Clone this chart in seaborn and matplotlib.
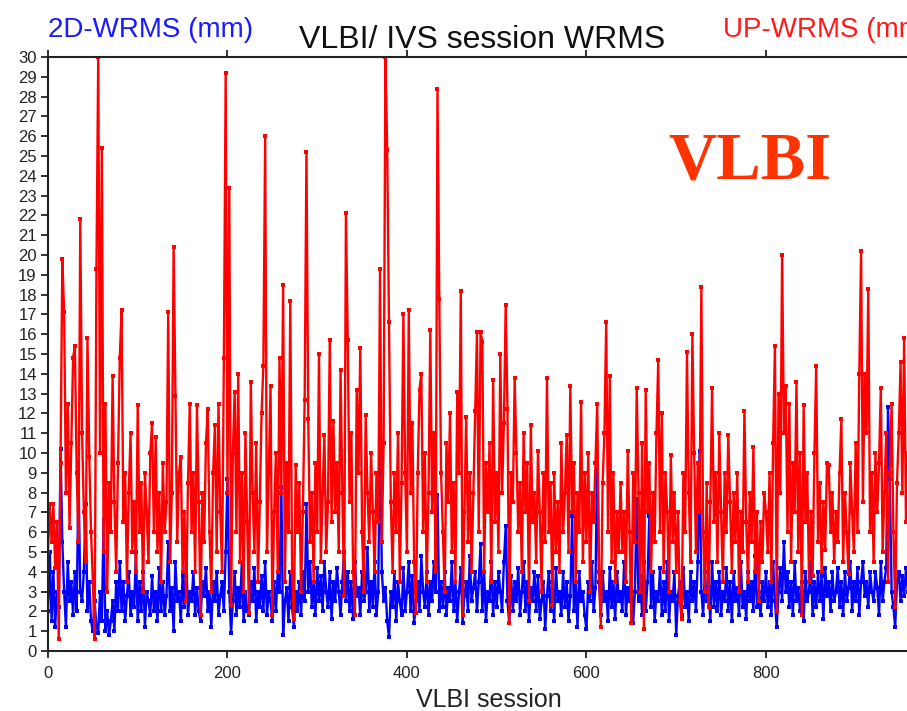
import numpy as np
import pandas as pd
import seaborn as sns
import matplotlib.pyplot as plt

# session numbers (every 2nd session)
session = np.arange(0, 960, 2)

# UP-WRMS (mm)
wrms_up = [
    5.0, 7.4, 5.5, 7.4, 4.2, 6.5, 0.6, 9.5, 19.8, 17.1, 8.0, 12.5, 6.2, 10.5, 14.8, 15.4, 9.0, 5.5, 21.8, 11.0,
    7.0, 4.5, 15.8, 9.8, 6.0, 3.5, 0.6, 19.3, 30.0, 10.0, 25.4, 5.0, 12.5, 3.0, 8.5, 6.0, 13.9, 7.5, 4.0, 9.5,
    14.8, 17.2, 6.5, 9.0, 3.5, 8.0, 11.0, 5.0, 7.5, 4.0, 12.4, 6.0, 8.5, 3.0, 9.0, 7.0, 4.5, 10.0, 11.5, 6.0,
    10.8, 5.0, 8.0, 3.5, 9.5, 6.0, 7.5, 17.1, 4.5, 8.0, 20.4, 12.9, 5.5, 9.0, 9.8, 4.0, 7.0, 2.5, 8.5, 12.5,
    6.0, 9.0, 4.0, 12.4, 7.5, 1.8, 8.0, 5.5, 10.5, 12.2, 6.0, 3.0, 9.0, 11.4, 5.0, 12.5, 7.0, 4.0, 14.8, 29.2,
    8.0, 23.4, 2.3, 10.0, 13.1, 6.0, 14.0, 4.5, 9.0, 3.0, 11.0, 6.5, 1.9, 13.6, 8.0, 5.0, 10.5, 3.5, 7.5, 12.0,
    14.4, 26.0, 5.0, 9.0, 13.4, 1.8, 7.0, 10.0, 4.0, 14.8, 8.0, 18.5, 3.5, 9.5, 6.0, 17.7, 4.0, 1.6, 9.4, 6.0,
    8.5, 3.0, 7.0, 12.7, 25.2, 11.7, 5.5, 8.0, 3.5, 9.5, 6.0, 15.0, 4.5, 8.0, 10.9, 5.0, 7.5, 15.7, 6.5, 11.6,
    7.0, 9.5, 5.0, 14.2, 8.0, 2.8, 22.1, 15.7, 7.5, 11.0, 4.0, 1.8, 13.2, 9.0, 15.3, 6.0, 3.0, 11.9, 8.0, 5.5,
    10.0, 7.0, 4.0, 9.0, 6.5, 19.3, 5.5, 10.5, 30.0, 25.3, 16.6, 7.5, 4.0, 9.0, 6.0, 11.0, 3.5, 8.5, 17.0, 9.0,
    5.0, 17.2, 8.0, 11.5, 4.5, 1.9, 9.0, 13.2, 14.0, 6.0, 10.0, 3.5, 8.0, 16.2, 7.0, 11.0, 4.0, 28.4, 17.8, 9.0,
    6.0, 3.0, 10.5, 7.5, 12.0, 5.0, 8.5, 3.5, 13.1, 9.0, 18.2, 1.8, 7.0, 11.8, 5.5, 9.0, 4.0, 8.0, 12.1, 16.1,
    6.0, 16.1, 15.6, 4.0, 9.5, 7.0, 10.5, 3.5, 13.7, 6.5, 9.0, 5.0, 15.0, 8.0, 11.5, 17.5, 12.2, 1.4, 9.0, 7.5,
    13.8, 10.0, 6.0, 8.5, 4.0, 11.0, 7.0, 9.5, 2.5, 11.4, 6.5, 8.0, 4.5, 10.1, 7.0, 3.0, 9.0, 5.5, 13.8, 6.0,
    8.5, 2.3, 9.0, 5.0, 7.5, 4.0, 10.5, 6.0, 8.0, 10.9, 5.0, 13.4, 7.0, 9.5, 3.5, 8.0, 6.0, 12.6, 4.5, 9.0,
    5.5, 10.0, 3.0, 8.0, 6.5, 9.5, 12.5, 4.0, 1.2, 8.5, 11.0, 16.6, 6.0, 13.9, 4.5, 9.0, 3.5, 7.0, 5.0, 8.5,
    5.0, 7.0, 3.5, 10.1, 6.0, 1.4, 9.0, 5.5, 13.3, 8.0, 3.0, 10.5, 1.1, 13.2, 7.0, 9.5, 4.0, 8.0, 5.5, 11.0,
    14.7, 6.0, 12.0, 4.0, 9.0, 7.0, 3.0, 9.9, 5.5, 8.0, 4.0, 7.0, 2.5, 1.6, 9.0, 6.0, 15.1, 8.0, 4.5, 16.0,
    10.0, 5.0, 9.5, 7.0, 18.4, 6.0, 3.0, 8.5, 2.2, 7.5, 13.3, 6.5, 9.0, 4.5, 11.0, 7.0, 3.5, 9.0, 6.0, 10.9,
    7.5, 4.0, 8.0, 5.5, 9.0, 3.0, 7.0, 5.0, 12.1, 6.5, 3.5, 8.0, 5.5, 10.3, 4.0, 7.0, 2.5, 6.5, 4.5, 8.0,
    7.0, 5.0, 9.0, 3.5, 10.5, 15.4, 2.0, 13.0, 8.0, 20.0, 11.0, 13.4, 6.0, 12.5, 4.5, 9.5, 7.0, 13.6, 5.0, 10.0,
    1.8, 12.4, 6.5, 9.0, 3.5, 7.0, 3.8, 10.0, 14.4, 5.5, 8.5, 4.0, 7.5, 5.1, 9.5, 9.4, 6.0, 8.0, 4.5, 7.0,
    5.5, 9.0, 11.7, 4.5, 8.0, 6.0, 3.9, 9.5, 7.0, 5.0, 10.5, 6.0, 14.0, 20.2, 7.5, 14.0, 11.0, 18.3, 6.0, 9.0,
    4.5, 10.0, 7.0, 9.5, 13.3, 5.0, 8.0, 11.0, 3.5, 9.0, 12.5, 6.0, 2.2, 8.5, 11.0, 14.6, 8.0, 15.8, 6.5, 10.0,
]

# 2D-WRMS (mm)
wrms_2d = [
    2.0, 5.0, 1.5, 4.0, 1.2, 3.0, 2.2, 10.2, 5.5, 3.0, 1.2, 4.5, 2.5, 3.5, 1.8, 4.0, 2.0, 9.0, 3.0, 2.5,
    4.0, 7.4, 2.0, 3.5, 1.5, 1.0, 2.5, 1.2, 0.9, 3.0, 1.5, 6.6, 1.0, 2.0, 0.8, 1.5, 2.5, 1.0, 3.5, 2.0,
    4.5, 2.0, 3.5, 1.5, 2.8, 4.0, 1.8, 3.0, 2.2, 5.0, 1.5, 3.5, 2.0, 4.0, 1.2, 3.0, 2.5, 1.8, 3.8, 2.0,
    3.0, 1.5, 4.2, 2.0, 3.5, 1.8, 2.8, 5.5, 2.0, 3.2, 1.0, 4.5, 2.5, 3.0, 1.5, 3.8, 2.2, 4.8, 1.8, 3.0,
    2.5, 4.0, 1.8, 3.2, 2.0, 1.5, 3.5, 2.8, 4.2, 2.0, 3.0, 1.2, 3.5, 2.5, 4.0, 1.8, 2.8, 3.5, 2.0, 5.0,
    8.7, 3.0, 0.9, 2.5, 4.0, 1.8, 3.2, 2.2, 4.5, 1.5, 3.0, 2.0, 1.8, 3.5, 2.5, 4.2, 1.5, 3.0, 2.2, 3.8,
    2.0, 4.5, 1.8, 3.0, 2.5, 1.5, 3.5, 2.0, 4.0, 3.0, 8.3, 0.8, 2.5, 3.2, 1.5, 4.0, 2.2, 1.2, 3.0, 2.0,
    3.5, 1.8, 4.0, 2.5, 7.4, 3.0, 4.5, 2.2, 3.5, 1.8, 4.2, 2.5, 3.8, 2.0, 4.5, 3.0, 2.2, 4.0, 1.6, 3.5,
    2.5, 4.2, 3.0, 1.8, 3.5, 5.0, 2.5, 4.0, 2.0, 3.5, 1.6, 4.5, 2.8, 3.2, 1.8, 4.0, 2.5, 3.0, 5.2, 2.0,
    3.5, 2.2, 4.5, 1.8, 3.0, 11.6, 4.0, 2.5, 3.2, 1.5, 0.7, 3.0, 2.2, 4.0, 1.5, 3.5, 2.5, 1.8, 4.2, 2.0,
    3.0, 4.5, 2.0, 3.8, 1.4, 2.5, 3.5, 2.0, 4.8, 3.0, 2.2, 4.0, 1.8, 3.5, 2.5, 4.5, 3.0, 7.9, 2.0, 3.5,
    2.2, 4.0, 1.8, 3.2, 2.5, 4.5, 2.0, 3.5, 1.5, 3.0, 4.2, 1.4, 2.8, 3.5, 2.0, 4.8, 2.5, 3.2, 4.0, 2.0,
    3.5, 5.4, 2.0, 4.0, 1.5, 3.0, 2.5, 4.5, 1.8, 3.5, 2.2, 4.0, 3.0, 2.0, 4.5, 6.3, 2.5, 1.4, 3.8, 2.0,
    3.5, 2.5, 4.2, 1.8, 3.0, 4.5, 2.0, 3.5, 1.5, 3.2, 2.5, 4.0, 2.0, 3.8, 1.6, 2.5, 3.5, 1.1, 2.8, 4.0,
    2.0, 3.5, 1.5, 4.2, 2.5, 3.0, 1.8, 4.0, 2.2, 3.5, 1.5, 2.8, 6.8, 2.0, 3.5, 1.2, 4.0, 2.5, 3.0, 1.8,
    1.1, 3.5, 2.5, 4.5, 2.0, 3.2, 10.0, 3.5, 1.8, 4.0, 2.5, 3.0, 1.5, 4.2, 2.2, 3.5, 1.6, 4.0, 2.5, 3.0,
    2.0, 4.5, 1.8, 3.2, 2.5, 4.0, 1.4, 3.0, 7.7, 2.5, 3.8, 1.8, 4.5, 2.0, 3.5, 6.8, 2.2, 4.0, 1.5, 3.0,
    2.5, 4.2, 1.8, 3.5, 2.0, 4.5, 1.5, 3.0, 2.5, 4.0, 0.8, 2.8, 3.5, 1.8, 4.2, 2.2, 3.0, 1.5, 4.0, 2.5,
    3.5, 2.0, 4.5, 10.1, 3.0, 1.8, 4.0, 2.5, 3.2, 1.5, 4.5, 2.2, 3.5, 2.0, 4.0, 1.8, 3.0, 2.5, 4.2, 2.0,
    3.5, 1.5, 4.0, 2.5, 3.2, 1.8, 4.5, 2.2, 3.0, 1.6, 4.0, 2.5, 3.5, 2.0, 4.8, 2.2, 3.0, 1.8, 3.5, 2.5,
    4.0, 2.2, 3.5, 1.8, 4.5, 2.5, 1.2, 3.0, 4.2, 2.5, 5.5, 3.0, 4.0, 2.2, 3.5, 1.8, 4.5, 2.5, 3.2, 2.0,
    3.5, 1.5, 4.0, 2.5, 3.0, 4.5, 1.8, 3.5, 2.2, 4.0, 2.5, 3.8, 1.6, 4.2, 2.8, 3.5, 2.0, 4.0, 2.5, 3.0,
    4.2, 2.2, 3.5, 1.8, 4.0, 2.5, 3.2, 4.5, 2.0, 3.5, 2.5, 4.2, 1.8, 3.5, 4.5, 2.8, 3.5, 2.2, 4.0, 3.0,
    2.5, 4.0, 3.2, 1.8, 4.5, 2.5, 3.5, 4.2, 12.3, 8.7, 3.0, 2.2, 1.2, 3.5, 4.0, 2.5, 3.8, 2.8, 4.2, 3.0,
]

y_ticks = list(range(0, 31))
x_ticks = [0, 200, 400, 600, 800]

df = pd.DataFrame({"session": session, "wrms_2d": wrms_2d, "wrms_up": wrms_up})

sns.set_style("ticks")
plt.rcParams["font.family"] = ["Liberation Sans", "DejaVu Sans"]

fig = plt.figure(figsize=(9.07, 7.11), dpi=100)
# axes run off the right edge, like the cropped original
ax = fig.add_axes([0.0529, 0.0844, 0.9895, 0.8354])

sns.lineplot(data=df, x="session", y="wrms_2d", color="#0000ff", marker="s",
             markersize=3.5, markeredgewidth=0, linewidth=1.7, ax=ax)
sns.lineplot(data=df, x="session", y="wrms_up", color="#ff0000", marker="s",
             markersize=3.5, markeredgewidth=0, linewidth=1.7, ax=ax)

ax.set_xlim(0, 1000)
ax.set_ylim(0, 30)
ax.set_yticks(y_ticks)
ax.set_xticks(x_ticks)
ax.set_xlabel("")
ax.set_ylabel("")
ax.tick_params(axis="both", direction="out", length=5, width=1.3, labelsize=12, colors="#222222")
ax.tick_params(axis="x", top=True, pad=6)
ax.tick_params(axis="y", pad=3)
for s in ["left", "top", "bottom"]:
    ax.spines[s].set_visible(True)
    ax.spines[s].set_linewidth(1.5)
    ax.spines[s].set_color("#222222")
ax.spines["right"].set_visible(False)

fig.text(0.0529, 0.948, "2D-WRMS (mm)", color="#1a1aff", fontsize=20, ha="left", va="baseline")
fig.text(0.797, 0.948, "UP-WRMS (mm)", color="#ff1a1a", fontsize=20, ha="left", va="baseline")
fig.text(0.532, 0.933, "VLBI/ IVS session WRMS", color="#111111", fontsize=23, ha="center", va="baseline")
fig.text(0.539, 0.006, "VLBI session", color="#222222", fontsize=18, ha="center", va="baseline")
ax.text(782, 24.7, "VLBI", color="#ff3300", fontsize=48, fontweight="bold",
        family=["Liberation Serif", "DejaVu Serif"], ha="center", va="center")

fig.savefig("out.png", dpi=100)
